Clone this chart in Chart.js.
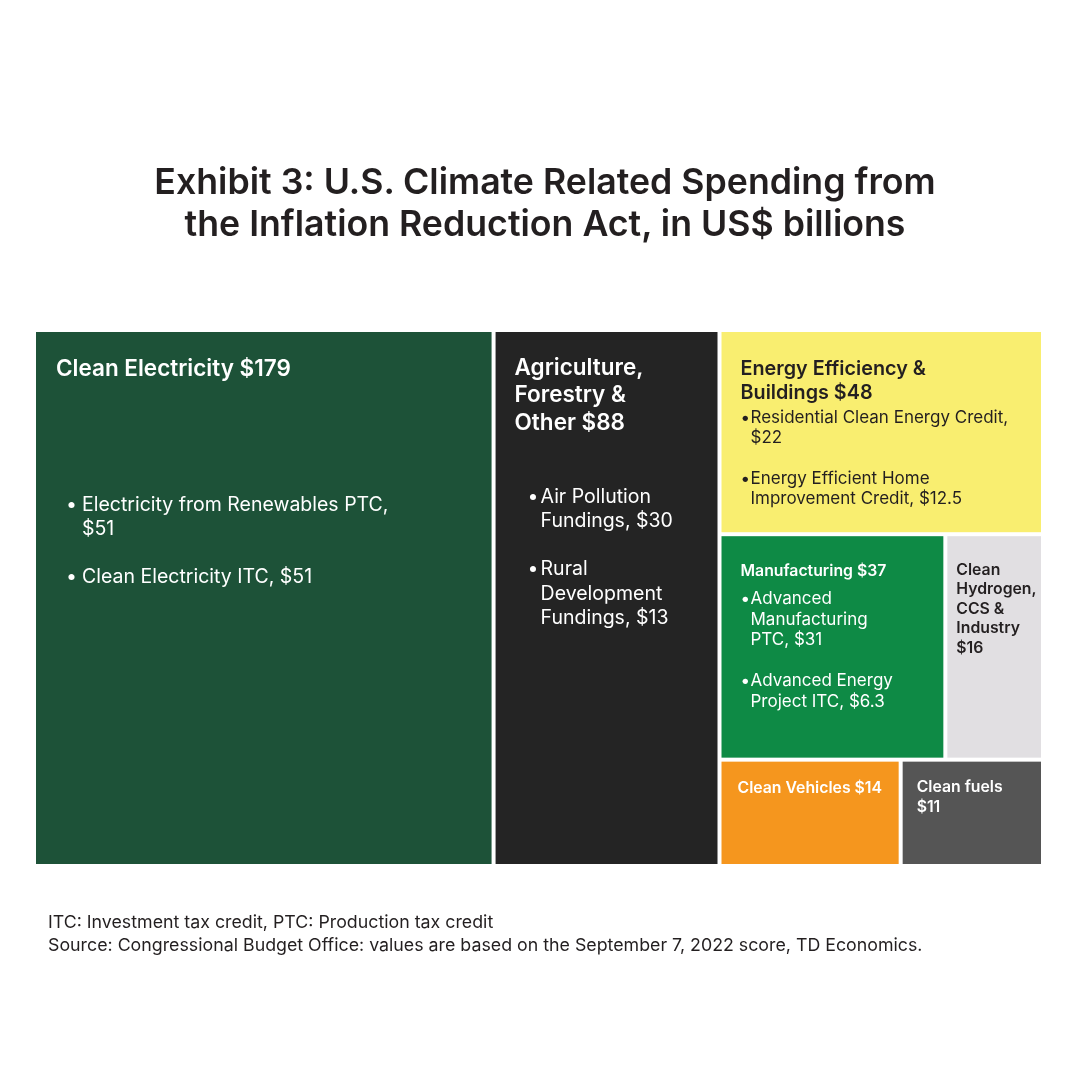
<!DOCTYPE html>
<html>
<head>
<meta charset="utf-8">
<script src="https://cdn.jsdelivr.net/npm/chart.js@4"></script>
<style>
  html, body { margin: 0; padding: 0; background: #ffffff; }
  #wrap { position: relative; width: 1080px; height: 1080px; overflow: hidden; }
  #title { position: absolute; left: 0; width: 1090px; top: 160px; text-align: center;
           font-family: Inter, Roboto, sans-serif; font-weight: 600; font-size: 35.7px;
           line-height: 42px; color: #231F20; }
  #notes { position: absolute; left: 48px; top: 910px; font-family: Inter, Roboto, sans-serif;
           font-size: 17.8px; line-height: 23px; color: #231F20; }
  canvas { position: absolute; left: 0; top: 0; }
</style>
</head>
<body>
<div id="wrap">
  <canvas id="c" width="1080" height="1080"></canvas>
  <div id="title">Exhibit 3: U.S. Climate Related Spending from<br>the Inflation Reduction Act, in US$ billions</div>
  <div id="notes">ITC: Investment tax credit, PTC: Production tax credit<br>Source: Congressional Budget Office: values are based on the September 7, 2022 score, TD Economics.</div>
</div>
<script>
// ---------------- DATA ----------------
const categories = [
  "Clean Electricity",
  "Agriculture, Forestry & Other",
  "Energy Efficiency & Buildings",
  "Manufacturing",
  "Clean Hydrogen, CCS & Industry",
  "Clean Vehicles",
  "Clean fuels"
];
const values = [179, 88, 48, 37, 16, 14, 11];
// grouping of the treemap: column, then row inside the column
const columnIndex = [0, 1, 2, 2, 2, 2, 2];
const rowIndex    = [0, 0, 0, 1, 1, 2, 2];
// label text (line breaks as in the picture)
const cellLabels = [
  "Clean Electricity $179",
  "Agriculture,\nForestry &\nOther $88",
  "Energy Efficiency &\nBuildings $48",
  "Manufacturing $37",
  "Clean\nHydrogen,\nCCS &\nIndustry\n$16",
  "Clean Vehicles $14",
  "Clean fuels\n$11"
];
const subLabels = [
  ["Electricity from Renewables PTC,\n$51", "Clean Electricity ITC, $51"],
  ["Air Pollution\nFundings, $30", "Rural\nDevelopment\nFundings, $13"],
  ["Residential Clean Energy Credit,\n$22", "Energy Efficient Home\nImprovement Credit, $12.5"],
  ["Advanced\nManufacturing\nPTC, $31", "Advanced Energy\nProject ITC, $6.3"],
  [], [], []
];

// ---------------- STYLE ----------------
const FONT = 'Inter, Roboto, sans-serif';
const cellStyle = [
  {bg:'#1D5238', fg:'#FFFFFF', titleSize:22.5, titleLH:27,   padX:20, titleTop:37, subSize:19.5, subLH:24,   subTop:173, dotX:30, textX:46, subGap:48},
  {bg:'#242424', fg:'#FFFFFF', titleSize:22.5, titleLH:27.5, padX:19, titleTop:36, subSize:19.5, subLH:24.5, subTop:165, dotX:32, textX:45, subGap:48},
  {bg:'#F9EE70', fg:'#231F20', titleSize:19.8, titleLH:24,   padX:19, titleTop:37, subSize:17,   subLH:20,   subTop:86,  dotX:19, textX:29, subGap:41},
  {bg:'#0E8A45', fg:'#FFFFFF', titleSize:15.8, titleLH:19.5, padX:19, titleTop:35, subSize:17,   subLH:20.5, subTop:63,  dotX:19, textX:29, subGap:41},
  {bg:'#E1DFE2', fg:'#231F20', titleSize:15.8, titleLH:19.5, padX:9,  titleTop:34},
  {bg:'#F5961E', fg:'#FFFFFF', titleSize:15.8, titleLH:19.5, padX:16, titleTop:27},
  {bg:'#555555', fg:'#FFFFFF', titleSize:15.8, titleLH:19.5, padX:14, titleTop:26}
];
const GAP = 2; // half the white gap between cells, in px

// ---------------- LAYOUT (value space 0..1) ----------------
function layout() {
  const total = values.reduce((a, b) => a + b, 0);
  const nCols = Math.max(...columnIndex) + 1;
  const rects = new Array(values.length);
  let x = 0;
  for (let c = 0; c < nCols; c++) {
    const idx = values.map((v, i) => i).filter(i => columnIndex[i] === c);
    const colSum = idx.reduce((a, i) => a + values[i], 0);
    const w = colSum / total;
    const rows = [...new Set(idx.map(i => rowIndex[i]))].sort((a, b) => a - b);
    let y = 0;
    rows.forEach(r => {
      const ridx = idx.filter(i => rowIndex[i] === r);
      const rowSum = ridx.reduce((a, i) => a + values[i], 0);
      const h = rowSum / colSum;
      let xx = x;
      ridx.forEach(i => {
        const cw = w * values[i] / rowSum;
        rects[i] = {x0: xx, x1: xx + cw, y0: y, y1: y + h};
        xx += cw;
      });
      y += h;
    });
    x += w;
  }
  return rects;
}
const rects = layout();

const treemapPlugin = {
  id: 'treemapCells',
  afterDatasetsDraw(chart) {
    const ctx = chart.ctx;
    const xs = chart.scales.x, ys = chart.scales.y;
    ctx.save();
    rects.forEach((r, i) => {
      const st = cellStyle[i];
      const left = xs.getPixelForValue(r.x0) + GAP;
      const right = xs.getPixelForValue(r.x1) - GAP;
      const top = ys.getPixelForValue(r.y0) + GAP;
      const bottom = ys.getPixelForValue(r.y1) - GAP;
      ctx.fillStyle = st.bg;
      ctx.fillRect(left, top, right - left, bottom - top);

      ctx.fillStyle = st.fg;
      ctx.textBaseline = 'middle';
      ctx.textAlign = 'left';
      ctx.font = `600 ${st.titleSize}px ${FONT}`;
      cellLabels[i].split('\n').forEach((ln, k) => {
        ctx.fillText(ln, left + st.padX, top + st.titleTop + k * st.titleLH);
      });
      if (subLabels[i].length) {
        ctx.font = `400 ${st.subSize}px ${FONT}`;
        let yy = top + st.subTop;
        subLabels[i].forEach((lab, b) => {
          const lines = lab.split('\n');
          ctx.fillText('\u2022', left + st.dotX, yy);
          lines.forEach((ln, k) => {
            ctx.fillText(ln, left + st.textX, yy + k * st.subLH);
          });
          yy += (lines.length - 1) * st.subLH + st.subGap;
        });
      }
    });
    ctx.restore();
  }
};

new Chart(document.getElementById('c'), {
  type: 'scatter',
  data: {
    datasets: [{
      label: 'US$ billions',
      data: rects.map((r, i) => ({x: (r.x0 + r.x1) / 2, y: (r.y0 + r.y1) / 2, v: values[i], name: categories[i]})),
      pointRadius: 0,
      pointHoverRadius: 0
    }]
  },
  options: {
    responsive: false,
    animation: false,
    events: [],
    layout: { padding: { left: 34, right: 37, top: 330, bottom: 214 } },
    scales: {
      x: { type: 'linear', min: 0, max: 1, display: false },
      y: { type: 'linear', min: 0, max: 1, reverse: true, display: false }
    },
    plugins: { legend: { display: false }, tooltip: { enabled: false }, title: { display: false } }
  },
  plugins: [treemapPlugin]
});
</script>
</body>
</html>
